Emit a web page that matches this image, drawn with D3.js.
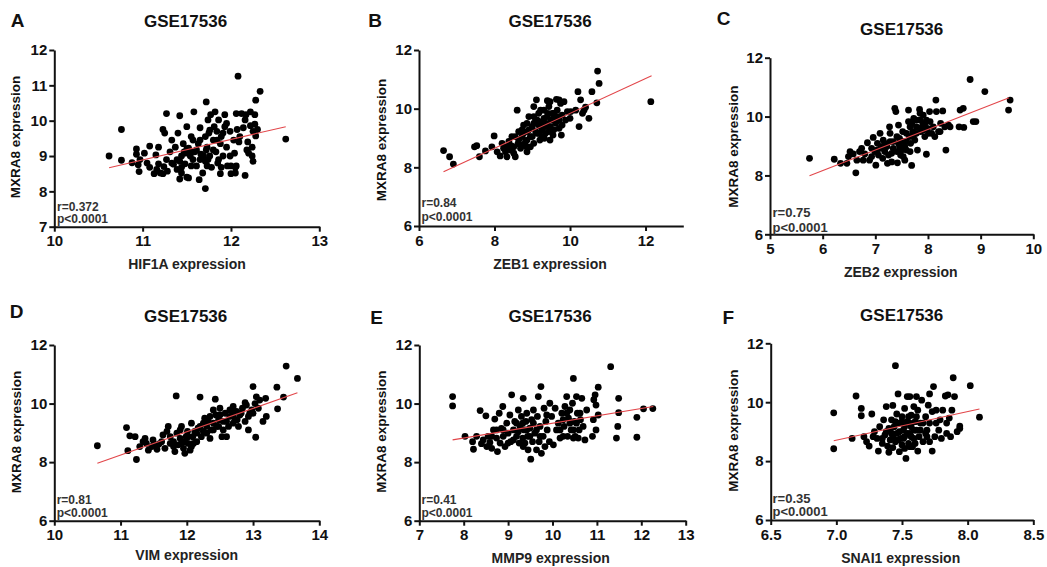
<!DOCTYPE html>
<html>
<head>
<meta charset="utf-8">
<script src="https://cdn.jsdelivr.net/npm/d3@7"></script>
<style>
  html, body { margin: 0; padding: 0; background: #fff; }
  svg { display: block; }
  text { font-family: "Liberation Sans", Arial, sans-serif; }
</style>
</head>
<body>
<svg id="chart" width="1047" height="567"></svg>
<script>
// GSE17536: MXRA8 expression against six EMT-related genes

const dataset = "GSE17536";
const yGene = "MXRA8";
const panelLetters = ["A", "B", "C", "D", "E", "F"];
const xGenes = ["HIF1A", "ZEB1", "ZEB2", "VIM", "MMP9", "SNAI1"];
const rValues = ["0.372", "0.84", "0.75", "0.81", "0.41", "0.35"];
const pText = "p<0.0001";

// [gene expression, MXRA8 expression]
const ptsHIF1A = [
  [10.62,9.0],[10.76,9.75],[10.76,8.88],[10.88,8.81],[10.93,9.2],[10.93,9.05],[10.95,8.75],[10.96,8.56],
  [11.02,9.08],[11.05,8.8],[11.08,9.28],[11.13,8.5],[11.15,9.03],[11.18,9.25],[11.18,8.78],[11.23,9.75],
  [11.25,9.65],[11.27,10.2],[11.24,8.7],[11.23,8.5],[11.27,8.9],[11.31,9.12],[11.33,9.45],[11.35,8.77],
  [11.37,9.25],[11.39,8.9],[11.4,9.65],[11.42,10.14],[11.42,8.35],[11.44,9.0],[11.44,8.68],[11.46,9.35],
  [11.47,9.12],[11.48,8.78],[11.5,9.83],[11.5,8.4],[11.52,9.22],[11.54,9.0],[11.55,9.55],[11.57,8.9],
  [11.58,10.25],[11.59,9.12],[11.61,8.72],[11.63,9.35],[11.64,8.33],[11.65,9.8],[11.66,9.05],[11.68,8.52],
  [11.71,9.55],[11.71,8.85],[11.71,8.08],[11.72,10.53],[11.73,9.25],[11.74,10.02],[11.75,9.65],[11.76,9.0],
  [11.77,10.17],[11.78,8.68],[11.8,9.45],[11.81,9.83],[11.82,10.25],[11.83,9.12],[11.84,9.7],[11.85,8.8],
  [11.86,10.02],[11.88,9.35],[11.88,8.5],[11.89,9.55],[11.91,9.0],[11.93,10.17],[11.93,9.83],[11.95,9.25],
  [11.96,8.72],[11.99,9.7],[12.0,8.5],[12.03,9.45],[12.04,9.08],[12.05,8.68],[12.06,10.2],[12.07,9.75],
  [12.08,11.26],[12.09,9.4],[12.12,10.2],[12.14,9.8],[12.16,8.45],[12.17,10.17],[12.19,9.4],[12.2,9.08],
  [12.22,10.25],[12.22,9.86],[12.24,9.25],[12.25,8.85],[12.27,10.17],[12.28,10.58],[12.28,9.57],[12.3,9.75],
  [12.33,10.83],[12.62,9.48],
  [11.16,8.62],[11.2,8.52],[11.28,8.57],[11.33,8.8],[11.39,8.62],[11.42,8.85],[11.48,9.08],[11.5,9.2],
  [11.54,9.12],[11.55,8.72],[11.57,9.45],[11.61,9.17],[11.65,9.45],[11.69,9.0],[11.73,8.72],[11.74,8.9],
  [11.8,9.17],[11.84,9.45],[11.86,8.9],[11.89,8.68],[11.91,9.65],[11.95,9.92],[11.99,9.0],[12.0,8.72],
  [12.05,8.52],[12.06,8.72],[12.1,9.55],[12.16,10.02],[12.18,9.17],[12.25,9.7],[12.27,9.9],[12.24,9.0],
  [11.08,8.68],[10.97,8.9],[11.65,8.9],[11.44,8.52],[11.52,8.38],[11.72,9.17],[11.76,9.73]
];

const ptsZEB1 = [
  [6.65,8.57],[6.81,8.36],[6.91,8.11],[7.47,8.7],[7.53,8.74],[7.6,8.36],[7.76,8.56],[7.93,8.7],
  [7.99,9.07],[8.07,8.53],[8.15,8.39],[8.2,8.82],[8.24,8.65],[8.33,8.36],[8.38,8.88],[8.42,8.59],
  [8.46,9.05],[8.51,8.48],[8.55,8.36],[8.6,9.95],[8.62,8.8],[8.64,9.22],[8.69,8.65],[8.73,9.05],
  [8.77,9.44],[8.82,8.88],[8.85,8.7],[8.86,9.22],[8.91,9.73],[8.95,9.05],[9.0,9.39],[9.04,8.82],
  [9.09,9.61],[9.11,10.3],[9.13,9.16],[9.17,9.44],[9.2,8.93],[9.22,9.95],[9.26,9.28],[9.31,9.67],
  [9.32,8.99],[9.38,9.5],[9.41,9.84],[9.44,9.22],[9.47,10.24],[9.5,9.61],[9.55,9.1],[9.57,9.84],
  [9.62,9.5],[9.64,10.32],[9.66,9.73],[9.71,9.33],[9.75,10.18],[9.77,9.1],[9.79,9.78],[9.84,10.24],
  [9.88,9.61],[9.93,9.9],[10.0,9.67],[10.21,10.58],[10.24,9.39],[10.28,10.3],[10.33,9.84],[10.37,9.95],
  [10.41,10.05],[10.5,9.67],[10.58,10.58],[10.71,10.2],[10.73,11.28],[10.77,10.86],[12.14,10.24],
  [8.77,9.16],[8.86,8.93],[8.91,9.28],[9.0,9.05],[9.04,9.5],[9.13,9.61],[9.17,9.84],[9.22,9.39],
  [9.26,9.05],[9.31,9.95],[9.35,9.39],[9.4,9.73],[9.44,10.07],[9.48,9.39],[9.53,9.84],[9.57,9.67],
  [9.66,9.95],[9.71,9.61],[9.79,9.44],[9.57,9.28],[8.51,8.7],[8.73,8.76],[8.64,8.93],[8.33,8.7],
  [8.29,8.53],[8.95,8.7],[9.09,9.22],[9.17,9.16],[9.35,9.16],[8.73,9.28],[8.86,9.5],[9.04,9.73],
  [9.47,8.93],[9.04,10.07],[9.26,9.56],[8.55,9.05],[8.44,8.74],[8.86,8.53],[10.02,9.9],[10.15,9.95],
  [9.4,10.27],[9.71,10.3]
];

const ptsZEB2 = [
  [5.75,8.58],[6.22,8.55],[6.34,8.41],[6.46,8.41],[6.49,8.64],[6.52,8.81],[6.58,8.73],[6.63,8.09],
  [6.65,8.52],[6.7,8.81],[6.74,8.92],[6.8,8.73],[6.85,9.11],[6.89,8.52],[6.93,8.92],[6.96,9.29],
  [6.99,8.81],[7.01,8.35],[7.04,9.09],[7.06,8.69],[7.09,9.43],[7.1,8.92],[7.14,8.58],[7.15,9.2],
  [7.18,8.81],[7.22,8.98],[7.23,8.41],[7.27,9.65],[7.28,9.15],[7.31,8.75],[7.34,8.92],[7.37,10.28],
  [7.39,10.17],[7.41,9.32],[7.42,8.43],[7.44,9.71],[7.46,8.98],[7.48,8.69],[7.52,9.49],[7.53,9.15],
  [7.56,8.52],[7.59,8.86],[7.63,9.83],[7.65,9.32],[7.66,9.65],[7.67,9.09],[7.69,8.34],[7.71,9.49],
  [7.73,9.94],[7.75,9.2],[7.78,9.65],[7.8,8.86],[7.84,10.24],[7.85,9.88],[7.86,9.49],[7.9,9.71],
  [7.91,10.05],[7.94,9.32],[7.97,8.72],[7.99,9.6],[8.03,10.17],[8.04,9.83],[8.07,9.43],[8.1,9.65],
  [8.15,10.56],[8.16,10.17],[8.2,9.49],[8.24,9.77],[8.28,10.19],[8.32,9.65],[8.34,8.86],[8.39,9.71],
  [8.42,9.65],[8.61,10.22],[8.67,10.28],[8.59,9.65],[8.68,9.63],[8.8,11.26],[8.86,9.83],[8.91,9.83],
  [9.08,10.85],[9.53,10.22],[9.56,10.56],
  [7.28,9.43],[7.34,9.15],[7.46,9.26],[7.56,8.98],[7.59,9.43],[7.66,8.81],[7.72,9.32],[7.78,9.43],
  [7.85,9.6],[7.91,9.54],[7.97,9.88],[8.01,9.43],[7.94,9.77],[7.25,8.69],[7.12,8.98],[7.03,8.86],
  [7.41,8.81],[7.5,8.86],[7.59,9.15],[7.44,9.09],[7.18,9.09],[7.69,9.77],[7.85,10.11],[7.78,9.88],
  [8.13,9.32],[8.23,9.49],[7.63,10.22],[6.93,8.64],[6.77,8.52],[7.31,8.46],[7.53,8.64]
];

const ptsVIM = [
  [10.65,8.56],[11.09,9.18],[11.11,8.39],[11.14,8.9],[11.22,8.87],[11.24,8.09],[11.29,8.53],[11.34,8.7],
  [11.37,8.81],[11.39,8.64],[11.42,8.41],[11.47,8.53],[11.49,8.76],[11.55,8.44],[11.58,8.62],[11.64,8.93],
  [11.67,8.47],[11.7,9.05],[11.72,9.22],[11.75,8.87],[11.8,8.7],[11.82,8.36],[11.84,10.26],[11.85,8.99],
  [11.87,8.59],[11.9,8.81],[11.92,9.22],[11.95,8.47],[11.97,8.3],[11.99,8.87],[12.01,9.05],[12.02,8.64],
  [12.05,8.41],[12.07,9.33],[12.09,8.87],[12.12,9.05],[12.15,8.7],[12.17,9.16],[12.2,10.22],[12.22,8.87],
  [12.25,9.05],[12.27,9.5],[12.3,9.22],[12.32,9.39],[12.35,8.81],[12.37,9.1],[12.4,9.33],[12.43,10.15],
  [12.44,9.61],[12.45,9.22],[12.48,9.45],[12.5,9.84],[12.53,8.87],[12.55,9.39],[12.58,9.67],[12.6,8.87],
  [12.63,9.22],[12.65,9.56],[12.68,9.78],[12.7,9.33],[12.73,9.45],[12.75,9.73],[12.78,9.22],[12.8,9.61],
  [12.84,9.84],[12.88,9.39],[12.9,9.95],[12.93,9.1],[12.95,9.67],[12.98,9.78],[13.0,10.58],[13.03,10.0],
  [13.04,8.85],[13.05,10.23],[13.08,9.84],[13.1,10.12],[13.15,9.39],[13.19,10.18],[13.2,9.56],[13.36,10.56],
  [13.37,9.82],[13.46,10.22],[13.5,11.28],[13.67,10.86],
  [11.9,9.1],[11.97,8.7],[12.02,8.87],[12.1,8.64],[12.15,8.99],[12.2,9.22],[12.25,9.33],[12.3,8.99],
  [12.35,9.56],[12.4,9.1],[12.48,9.22],[12.5,9.61],[12.55,9.1],[12.6,9.39],[12.65,9.78],[12.7,9.61],
  [12.76,9.45],[12.82,9.67],[12.93,9.56],[13.0,9.67],[11.8,8.53],[11.92,8.64],[12.07,8.53],[11.75,8.64],
  [11.62,8.7],[11.5,8.59],[12.4,9.78],[12.7,9.9],[12.88,10.03]
];

const ptsMMP9 = [
  [7.75,10.24],[7.75,9.92],[8.03,8.88],[8.2,8.7],[8.22,8.44],[8.29,8.88],[8.37,9.76],[8.4,8.63],
  [8.44,8.76],[8.5,9.58],[8.52,8.53],[8.55,8.88],[8.59,8.67],[8.63,8.47],[8.67,9.1],[8.7,9.47],
  [8.74,8.82],[8.76,8.36],[8.8,9.67],[8.82,8.65],[8.85,9.15],[8.88,9.9],[8.89,8.88],[8.93,8.53],
  [8.97,9.33],[9.0,8.99],[9.04,9.61],[9.06,8.7],[9.08,10.3],[9.12,9.1],[9.15,9.39],[9.19,8.88],
  [9.23,9.78],[9.25,8.65],[9.27,9.22],[9.3,9.56],[9.33,8.82],[9.34,10.18],[9.36,9.1],[9.38,8.65],
  [9.4,9.39],[9.42,9.67],[9.44,8.88],[9.45,8.42],[9.49,9.16],[9.51,8.1],[9.53,9.45],[9.55,8.7],
  [9.57,9.78],[9.6,8.99],[9.64,8.42],[9.66,9.56],[9.68,10.24],[9.7,8.7],[9.72,9.22],[9.74,10.58],
  [9.75,8.3],[9.79,8.88],[9.81,9.84],[9.85,9.39],[9.88,9.1],[9.93,8.7],[9.94,10.01],[9.98,9.56],
  [10.02,8.59],[10.06,9.84],[10.09,9.1],[10.13,9.33],[10.17,8.82],[10.21,9.67],[10.24,8.88],[10.26,9.22],
  [10.28,9.9],[10.32,10.24],[10.34,8.88],[10.36,9.5],[10.39,9.78],[10.42,9.1],[10.45,10.01],[10.47,10.86],
  [10.49,9.39],[10.51,8.88],[10.54,10.24],[10.56,9.67],[10.6,9.1],[10.63,9.45],[10.66,10.18],[10.69,9.22],
  [10.73,8.76],[10.77,9.78],[10.9,8.88],[10.92,9.45],[10.93,10.13],[10.96,10.3],[10.98,9.95],[10.98,9.1],
  [11.03,9.61],[11.03,10.56],[11.31,11.26],[11.44,8.82],[11.47,9.22],[11.49,10.18],[11.49,9.69],[11.9,9.53],
  [11.9,8.85],[12.05,9.82],[12.26,9.83],
  [9.42,9.1],[9.49,8.88],[9.57,9.33],[9.33,9.33],[9.23,9.04],[9.64,9.1],[9.12,8.76],[9.0,8.65],
  [8.89,9.1],[8.74,9.1],[8.63,8.88],[10.39,9.33],[10.47,9.1],[10.32,9.67],[10.54,9.33],[10.24,9.45],
  [10.62,9.67],[10.17,9.1],[9.72,8.88],[9.83,8.53],[9.34,8.53],[9.19,9.33],[9.87,9.61],[10.47,8.82],
  [10.58,8.82]
];

const ptsSNAI1 = [
  [6.98,9.64],[6.98,8.42],[7.12,8.77],[7.15,10.21],[7.19,9.79],[7.19,9.54],[7.21,8.83],[7.23,8.66],
  [7.25,8.51],[7.27,9.6],[7.28,8.83],[7.29,9.0],[7.31,8.77],[7.32,8.34],[7.33,9.17],[7.35,8.6],
  [7.36,9.4],[7.37,8.89],[7.38,9.85],[7.39,8.51],[7.4,9.11],[7.4,8.3],[7.41,8.72],[7.42,9.4],
  [7.42,8.94],[7.43,9.89],[7.43,8.46],[7.44,9.17],[7.45,11.24],[7.45,8.66],[7.46,9.6],[7.46,8.94],
  [7.47,10.28],[7.48,8.32],[7.48,9.29],[7.49,8.77],[7.5,9.51],[7.5,8.55],[7.51,9.05],[7.52,9.79],
  [7.52,8.83],[7.53,8.09],[7.54,9.34],[7.54,10.19],[7.55,8.6],[7.56,10.19],[7.56,8.94],[7.57,9.56],
  [7.57,9.17],[7.58,8.49],[7.59,9.85],[7.59,8.77],[7.6,9.34],[7.61,9.05],[7.61,10.19],[7.62,8.34],
  [7.62,9.73],[7.63,8.83],[7.64,9.29],[7.65,10.07],[7.66,8.66],[7.68,9.51],[7.69,9.05],[7.7,9.9],
  [7.71,10.28],[7.71,8.66],[7.73,9.68],[7.73,8.34],[7.74,10.53],[7.75,8.83],[7.76,9.73],[7.78,9.05],
  [7.79,9.4],[7.8,8.77],[7.81,9.73],[7.83,10.21],[7.84,8.94],[7.85,10.25],[7.87,8.83],[7.88,9.73],
  [7.89,10.83],[7.9,10.19],[7.92,9.0],[7.94,9.19],[7.94,9.11],[8.02,10.56],[8.09,9.49],
  [7.41,9.05],[7.43,8.83],[7.46,9.29],[7.48,9.0],[7.51,8.77],[7.54,8.94],[7.55,9.51],[7.56,9.29],
  [7.57,8.83],[7.59,9.05],[7.6,8.6],[7.61,9.51],[7.64,9.05],[7.66,9.29],[7.68,8.94],[7.52,9.17],
  [7.5,9.34],[7.47,8.72],[7.56,8.49],[7.52,8.43],[7.45,9.34],[7.38,9.0],[7.35,8.77],[7.71,9.29],
  [7.69,8.83],[7.76,9.29],[7.84,9.29],[7.86,9.46]
];

// regression line end points [x, y]
const fitHIF1A = [[10.62, 8.67], [12.62, 9.83]];
const fitZEB1  = [[6.65, 7.85], [12.16, 11.12]];
const fitZEB2  = [[5.75, 7.99], [9.54, 10.64]];
const fitVIM   = [[10.65, 7.96], [13.67, 10.37]];
const fitMMP9  = [[7.75, 8.76], [12.27, 9.9]];
const fitSNAI1 = [[6.98, 8.69], [8.09, 9.77]];

// axis ranges and tick values
const xDomains = [[10, 13], [6, 13], [5, 10], [10, 14], [7, 13], [6.5, 8.5]];
const xTickVals = [[10, 11, 12, 13], [6, 8, 10, 12], [5, 6, 7, 8, 9, 10], [10, 11, 12, 13, 14], [7, 8, 9, 10, 11, 12, 13], [6.5, 7.0, 7.5, 8.0, 8.5]];
const yDomains = [[7, 12], [6, 12], [6, 12], [6, 12], [6, 12], [6, 12]];
const yTickVals = [[7, 8, 9, 10, 11, 12], [6, 8, 10, 12], [6, 8, 10, 12], [6, 8, 10, 12], [6, 8, 10, 12], [6, 8, 10, 12]];

const allPts = [ptsHIF1A, ptsZEB1, ptsZEB2, ptsVIM, ptsMMP9, ptsSNAI1];
const allFits = [fitHIF1A, fitZEB1, fitZEB2, fitVIM, fitMMP9, fitSNAI1];

// panel frames (pixel layout)
const layout = [
  { x0: 54.3, x1: 319.3, yT: 50, yB: 226.7, letter: [17.5, 20], title: [185.5, 21.5], yl: [15, 137], xl: [187, 264], ann: [57, 207, 219], serif: false },
  { x0: 419, x1: 683.3, yT: 50, yB: 226, letter: [375, 20], title: [550, 21.5], yl: [381.5, 140], xl: [550, 264], ann: [421.5, 203, 217], serif: false },
  { x0: 770, x1: 1033.3, yT: 57.7, yB: 234.3, letter: [723.5, 18.5], title: [901.7, 29], yl: [733.5, 146.7], xl: [900.7, 271.5], ann: [772.5, 212, 227], serif: true },
  { x0: 54.3, x1: 319.3, yT: 345, yB: 520.7, letter: [16.7, 311.7], title: [185.7, 316.7], yl: [16.7, 432], xl: [186.7, 555], ann: [56.7, 500, 512.5], serif: false },
  { x0: 419.3, x1: 685.7, yT: 345, yB: 520.7, letter: [376.7, 317.5], title: [550, 316.7], yl: [381.7, 431.7], xl: [550.7, 558.3], ann: [421.5, 500, 512.5], serif: false },
  { x0: 770.7, x1: 1033.3, yT: 343.3, yB: 520, letter: [728.3, 317.5], title: [901.7, 315], yl: [733.3, 430.7], xl: [900.7, 558.3], ann: [772.5, 498, 511.5], serif: true }
];

const svg = d3.select("#chart");
const ink = "#111";

layout.forEach((L, i) => {
  const g = svg.append("g");
  const x = d3.scaleLinear().domain(xDomains[i]).range([L.x0, L.x1]);
  const y = d3.scaleLinear().domain(yDomains[i]).range([L.yB, L.yT]);

  // panel letter and dataset title
  g.append("text").attr("x", L.letter[0]).attr("y", L.letter[1])
    .attr("text-anchor", "middle").attr("dominant-baseline", "central")
    .attr("font-size", 19).attr("font-weight", "bold").attr("fill", ink)
    .text(panelLetters[i]);
  g.append("text").attr("x", L.title[0]).attr("y", L.title[1])
    .attr("text-anchor", "middle").attr("dominant-baseline", "central")
    .attr("font-size", 17).attr("font-weight", "bold").attr("fill", ink)
    .text(dataset);

  // axes
  const fmt = i === 5 ? d3.format(".1f") : d3.format("d");
  const xAxis = g.append("g").attr("transform", `translate(0,${L.yB})`)
    .call(d3.axisBottom(x).tickValues(xTickVals[i]).tickFormat(fmt).tickSize(5).tickPadding(4).tickSizeOuter(0));
  const yAxis = g.append("g").attr("transform", `translate(${L.x0},0)`)
    .call(d3.axisLeft(y).tickValues(yTickVals[i]).tickFormat(d3.format("d")).tickSize(5).tickPadding(2).tickSizeOuter(0));
  [xAxis, yAxis].forEach(a => {
    a.select(".domain").attr("stroke", ink).attr("stroke-width", 2);
    a.selectAll(".tick line").attr("stroke", ink).attr("stroke-width", 2);
    a.selectAll(".tick text").attr("fill", ink).attr("font-size", 15).attr("font-weight", "bold")
      .attr("font-family", "'Liberation Sans', Arial, sans-serif");
  });

  // axis titles
  g.append("text").attr("transform", `translate(${L.yl[0]},${L.yl[1]}) rotate(-90)`)
    .attr("text-anchor", "middle").attr("dominant-baseline", "central")
    .attr("font-size", 13.5).attr("font-weight", "bold").attr("fill", ink)
    .text(`${yGene} expression`);
  g.append("text").attr("x", L.xl[0]).attr("y", L.xl[1])
    .attr("text-anchor", "middle").attr("dominant-baseline", "central")
    .attr("font-size", 14).attr("font-weight", "bold").attr("fill", "#222")
    .text(`${xGenes[i]} expression`);

  // points
  g.append("g").selectAll("circle").data(allPts[i]).join("circle")
    .attr("cx", d => x(d[0])).attr("cy", d => y(d[1])).attr("r", 3.4)
    .attr("fill", "#000");

  // regression line
  g.append("path").datum(allFits[i])
    .attr("d", d3.line().x(d => x(d[0])).y(d => y(d[1])))
    .attr("stroke", "#e2464a").attr("stroke-width", 1.1).attr("fill", "none");

  // correlation annotation
  const annFont = L.serif ? "'Liberation Serif', 'Times New Roman', serif" : "'Liberation Sans', Arial, sans-serif";
  g.append("text").attr("x", L.ann[0]).attr("y", L.ann[1])
    .attr("dominant-baseline", "central").attr("font-family", annFont)
    .attr("font-size", L.serif ? 13 : 12).attr("font-weight", "bold").attr("fill", "#333")
    .text(`r=${rValues[i]}`);
  g.append("text").attr("x", L.ann[0]).attr("y", L.ann[2])
    .attr("dominant-baseline", "central").attr("font-family", annFont)
    .attr("font-size", L.serif ? 13 : 12).attr("font-weight", "bold").attr("fill", "#333")
    .text(pText);
});
</script>
</body>
</html>
